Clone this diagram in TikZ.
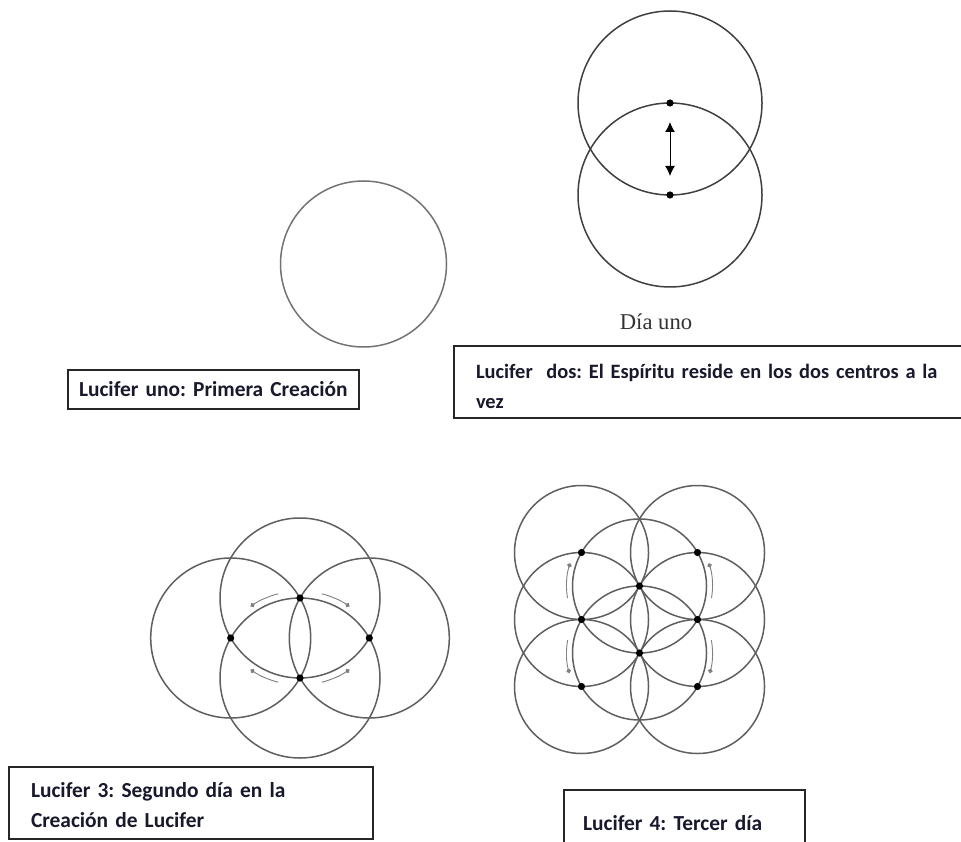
\documentclass[tikz,border=0pt]{standalone}
\usepackage{fontspec}
\newfontfamily\boxfont{Carlito}[WordSpace={0.55,0,0}]
\newfontfamily\dayfont{Liberation Serif}
\usepackage{tikz}
\usetikzlibrary{arrows.meta,calc}
\frenchspacing
\definecolor{ringgray}{RGB}{95,95,95}
\definecolor{boxink}{RGB}{25,25,45}
\tikzset{
  ring/.style={draw=ringgray, line width=0.75pt},
  dot/.style={circle, fill=black, inner sep=0pt, minimum size=3.6pt},
  spin/.style={draw=gray, line width=0.45pt, -{Circle[length=2.3pt]}},
  capbox/.style={draw=black!85, line width=1pt, anchor=north west, align=left,
    inner ysep=1pt, text=boxink, font=\boxfont\bfseries\fontsize{10.7}{13}\selectfont}
}

\begin{document}
\begin{tikzpicture}[x=0.5pt,y=0.5pt]
\useasboundingbox[fill=white] (0,0) rectangle (961,841);

% Lucifer uno
\coordinate (uno) at (363.5,577);
\draw[ring, draw=black!55] (uno) circle[radius=83];
\node[capbox, text width=134.5pt, minimum height=19.5pt, inner xsep=5.5pt] (caja1) at (67,472)
  {Lucifer uno: Primera Creación};

% Lucifer dos
\draw[ring, draw=black!75] (670,738) circle[radius=92];
\draw[ring, draw=black!75] (670,646) circle[radius=92];
\node[dot] (arriba) at (670,738) {};
\node[dot] (abajo) at (670,646) {};
\draw[line width=0.5pt, {Latex[length=5pt,width=5pt]}-{Latex[length=5pt,width=5pt]},
  shorten <=7.5pt, shorten >=7.5pt] (arriba) -- (abajo);
\node[font=\dayfont\fontsize{11.3}{13}\selectfont, text=black!80] (dia) at (656,519) {Día uno};
\node[capbox, text width=255pt, inner xsep=11pt, inner ysep=0pt, text height=16pt, text depth=20pt,
  font=\boxfont\bfseries\fontsize{10.2}{13}\selectfont] (caja2) at (453,496)
  {Lucifer\ \ dos: El Espíritu reside en los dos centros a la\\[2pt]vez};

% Lucifer 3
\coordinate (m3) at (300,203);
\foreach \n/\dx/\dy in {t/0/40, b/0/-40, l/-69.3/0, r/69.3/0}
  \coordinate (c\n) at ($(m3)+(\dx,\dy)$);
\foreach \n in {t,b,l,r}
  \draw[ring] (c\n) circle[radius=80];
\foreach \n in {t,b,l,r}
  \node[dot] (p\n) at (c\n) {};
\draw[spin] ($(cb)+(104.5:87)$) arc[start angle=104.5, end angle=124.6, radius=87];
\draw[spin] ($(cb)+(75.5:87)$) arc[start angle=75.5, end angle=55.4, radius=87];
\draw[spin] ($(ct)+(255.5:87)$) arc[start angle=255.5, end angle=235.4, radius=87];
\draw[spin] ($(ct)+(284.5:87)$) arc[start angle=284.5, end angle=304.6, radius=87];
\node[capbox, text width=160pt, inner xsep=11pt, inner ysep=0pt, text height=15pt, text depth=21pt]
  (caja3) at (8,75) {Lucifer 3: Segundo día en la\\[2pt]Creación de Lucifer};

% Lucifer 4
\coordinate (m4) at (639.5,221.5);
\foreach \n/\dx/\dy in {ct/0/33.5, cb/0/-33.5, ml/-58/0, mr/58/0,
                        ul/-58/67, ur/58/67, ll/-58/-67, lr/58/-67}
  \coordinate (f\n) at ($(m4)+(\dx,\dy)$);
\foreach \n in {ct,cb,ml,mr,ul,ur,ll,lr}
  \draw[ring] (f\n) circle[radius=67];
\foreach \n in {ct,cb,ml,mr,ul,ur,ll,lr}
  \node[dot] (q\n) at (f\n) {};
\draw[spin] ($(fct)+(189.5:73)$) arc[start angle=189.5, end angle=161.8, radius=73];
\draw[spin] ($(fct)+(-9.5:73)$) arc[start angle=-9.5, end angle=18.2, radius=73];
\draw[spin] ($(fcb)+(169.8:73)$) arc[start angle=169.8, end angle=196, radius=73];
\draw[spin] ($(fcb)+(10.2:73)$) arc[start angle=10.2, end angle=-16, radius=73];
\node[capbox, text width=101.5pt, minimum height=33pt, inner xsep=9.5pt] (caja4) at (563,52)
  {Lucifer 4: Tercer día};
\end{tikzpicture}
\end{document}
